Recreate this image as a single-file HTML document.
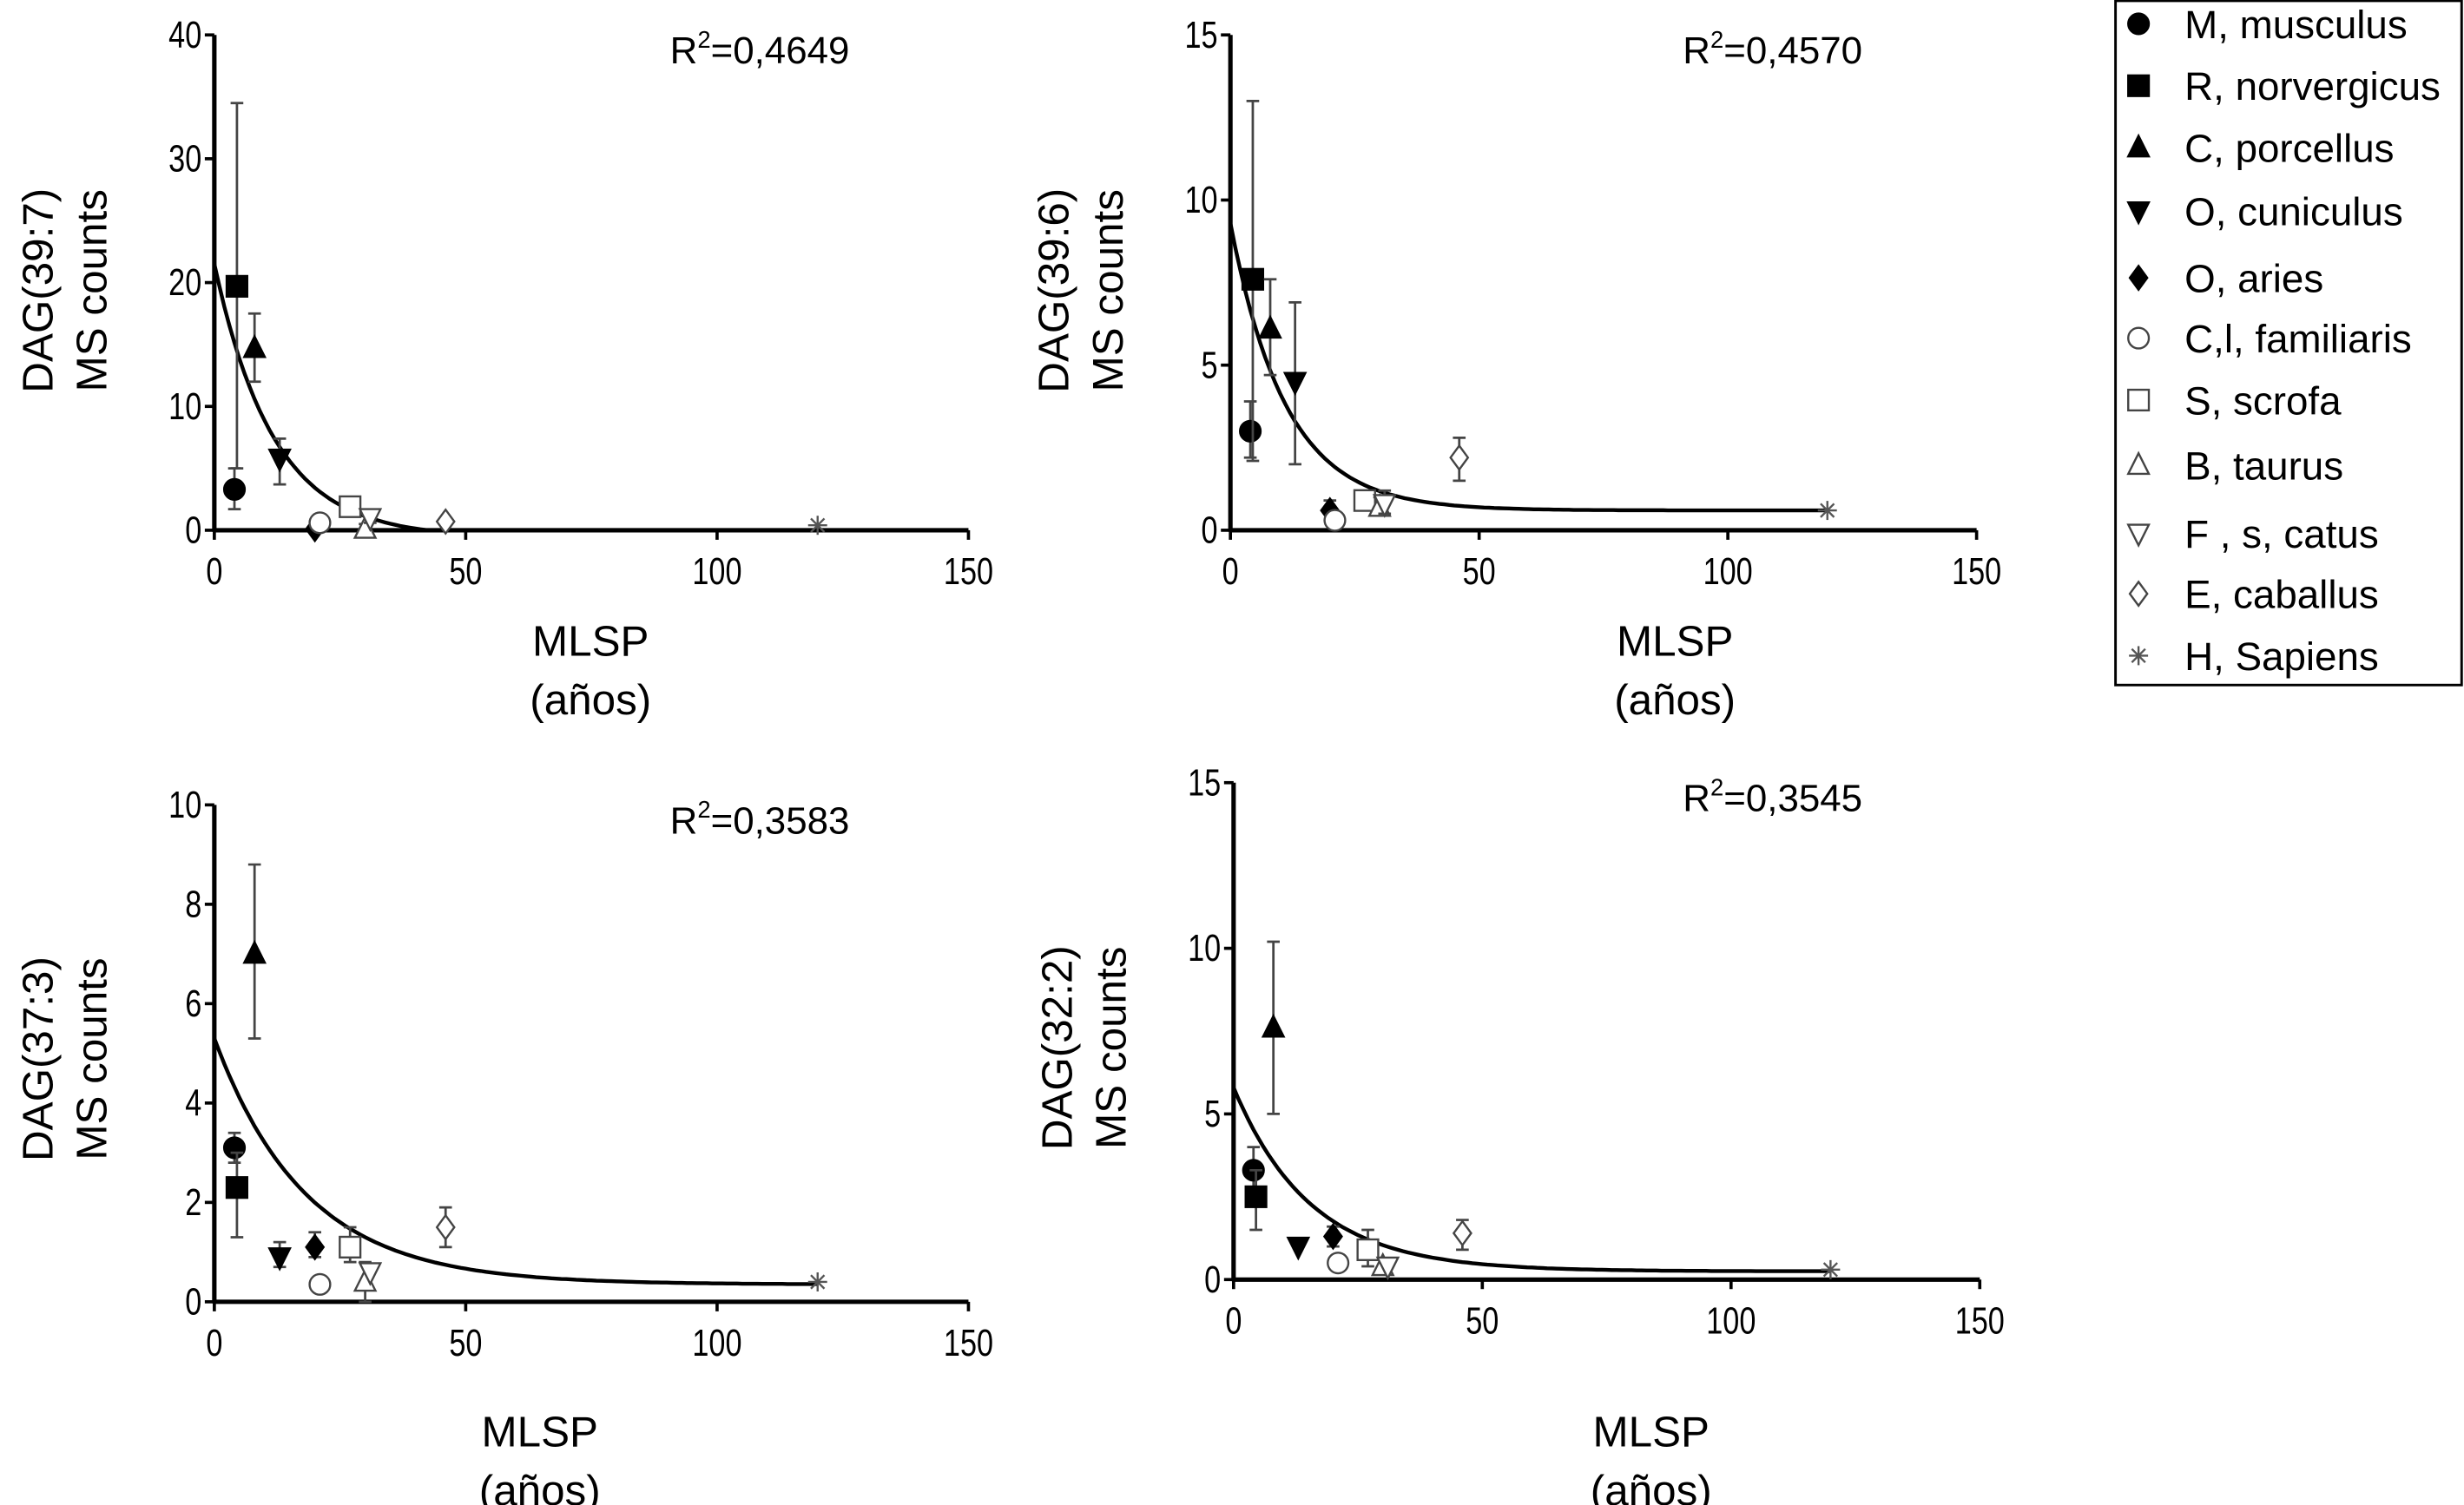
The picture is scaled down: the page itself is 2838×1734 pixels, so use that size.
<!DOCTYPE html>
<html><head><meta charset="utf-8"><style>
html,body{margin:0;padding:0;background:#fff;}
svg{display:block;}
text{font-family:"Liberation Sans",sans-serif;fill:#000;}
.tick{font-family:"Liberation Sans",sans-serif;font-size:24px;}
</style></head><body>
<svg id="chart" width="2838" height="1734" viewBox="0 0 1552 948" preserveAspectRatio="none" xmlns="http://www.w3.org/2000/svg"></svg>
<script>
const species = ["M, musculus","R, norvergicus","C, porcellus","O, cuniculus","O, aries","C,l, familiaris","S, scrofa","B, taurus","F , s, catus","E, caballus","H, Sapiens"];
const markers = ["circle","square","triangle","tridown","diamond","ocircle","osquare","otriangle","otridown","odiamond","star"];
const mlsp = [4,4.5,8,13,20,21,27,30,31,46,120];
const xTicks = [0,50,100,150];
// panel 1 DAG(39:7)
const p1Vals = [3.3,19.7,14.7,5.8,0.1,0.6,1.9,0.1,1.0,0.7,0.4];
const p1Lo = [1.7,5,12,3.7,0.1,0.6,1.9,0,0.6,0.7,0.4];
const p1Hi = [5,34.5,17.5,7.4,0.1,0.6,1.9,0.5,1.5,0.7,0.4];
const p1Fit = [21.5,-0.6,0.085];
const p1Ticks = [0,10,20,30,40];
// panel 2 DAG(39:6)
const p2Vals = [3.0,7.6,6.1,4.5,0.6,0.3,0.9,0.7,0.8,2.2,0.6];
const p2Lo = [2.2,2.1,4.7,2.0,0.3,0.3,0.9,0.5,0.5,1.5,0.6];
const p2Hi = [3.9,13,7.6,6.9,0.9,0.3,1.1,1.0,1.2,2.8,0.6];
const p2Fit = [9.3,0.6,0.09];
const p2Ticks = [0,5,10,15];
// panel 3 DAG(37:3)
const p3Vals = [3.1,2.3,7.0,0.9,1.1,0.35,1.1,0.4,0.6,1.5,0.4];
const p3Lo = [2.8,1.3,5.3,0.7,0.9,0.35,0.8,0,0.6,1.1,0.4];
const p3Hi = [3.4,3.0,8.8,1.2,1.4,0.35,1.5,0.8,0.6,1.9,0.4];
const p3Fit = [5.3,0.35,0.055];
const p3Ticks = [0,2,4,6,8,10];
// panel 4 DAG(32:2)
const p4Vals = [3.3,2.5,7.6,1.0,1.3,0.5,0.9,0.4,0.4,1.4,0.3];
const p4Lo = [2.8,1.5,5.0,1.0,1.0,0.5,0.4,0.4,0.4,0.9,0.3];
const p4Hi = [4.0,3.3,10.2,1.0,1.6,0.5,1.5,0.4,0.4,1.8,0.3];
const p4Fit = [5.8,0.25,0.065];
const p4Ticks = [0,5,10,15];

const NS="http://www.w3.org/2000/svg";
const svg=document.getElementById('chart');
function mk(tag,attrs,parent){const e=document.createElementNS(NS,tag);for(const k in attrs)e.setAttribute(k,attrs[k]);(parent||svg).appendChild(e);return e;}

function marker(g,type,x,y){
  const s=6.5;let e;
  const fill=type.startsWith('o')?'#fff':'#000';
  const stroke=type.startsWith('o')?'#444':'#000';
  if(type==='star'){
    e=mk('g',{stroke:'#555','stroke-width':1.3},g);
    for(let a=0;a<4;a++){const an=a*Math.PI/4;mk('line',{x1:x-6*Math.cos(an),y1:y-6*Math.sin(an),x2:x+6*Math.cos(an),y2:y+6*Math.sin(an)},e);}
  } else if(type==='circle'||type==='ocircle'){
    e=mk('circle',{cx:x,cy:y,r:s,fill,stroke,'stroke-width':1.3},g);
  } else if(type==='square'||type==='osquare'){
    e=mk('rect',{x:x-s,y:y-s,width:2*s,height:2*s,fill,stroke,'stroke-width':1.3},g);
  } else if(type==='triangle'||type==='otriangle'){
    e=mk('polygon',{points:`${x},${y-s-1} ${x+s},${y+s-1} ${x-s},${y+s-1}`,fill,stroke,'stroke-width':1.3},g);
  } else if(type==='tridown'||type==='otridown'){
    e=mk('polygon',{points:`${x},${y+s+1} ${x+s},${y-s+1} ${x-s},${y-s+1}`,fill,stroke,'stroke-width':1.3},g);
  } else {
    e=mk('polygon',{points:`${x},${y-s-1} ${x+s-1},${y} ${x},${y+s+1} ${x-s+1},${y}`,fill,stroke,'stroke-width':1.3},g);
  }
  return e;
}

function panel(cfg){
  const g=mk('g',{});
  
  
  const ymax=cfg.ticks[cfg.ticks.length-1];
  const X=v=>cfg.x0+(v/150)*(cfg.x1-cfg.x0);
  const Y=v=>cfg.y0-(v/ymax)*(cfg.y0-cfg.y1);
  const ax=mk('line',{x1:X(0),y1:cfg.y0,x2:X(150),y2:cfg.y0,stroke:'#000','stroke-width':2.8},g);
  
  
  const ay=mk('line',{x1:X(0),y1:cfg.y0+1,x2:X(0),y2:Y(ymax),stroke:'#000','stroke-width':2.8},g);
  
  
  xTicks.forEach(t=>{
    mk('line',{x1:X(t),y1:cfg.y0,x2:X(t),y2:cfg.y0+6,stroke:'#000','stroke-width':2},g);
    const tx=mk('text',{transform:`translate(${X(t)},${cfg.y0+34}) scale(0.78,1)`,'text-anchor':'middle',class:'tick'},g);
    tx.textContent=t;
    
    
  });
  cfg.ticks.forEach(t=>{
    mk('line',{x1:X(0)-6,y1:Y(t),x2:X(0),y2:Y(t),stroke:'#000','stroke-width':2},g);
    const tx=mk('text',{transform:`translate(${X(0)-8},${Y(t)+8}) scale(0.78,1)`,'text-anchor':'end',class:'tick'},g);
    tx.textContent=t;
    
    
  });
  let d='';
  for(let v=0;v<=120;v+=1){
    let yv=Math.max(0,cfg.fit[1]+(cfg.fit[0]-cfg.fit[1])*Math.exp(-cfg.fit[2]*v));
    d+=(v===0?'M':'L')+X(v).toFixed(1)+','+Y(yv).toFixed(1);
  }
  const c=mk('path',{d,fill:'none',stroke:'#000','stroke-width':2.4},g);
  
  
  cfg.vals.forEach((v,i)=>{
    const x=X(mlsp[i]);
    if(cfg.hi[i]-cfg.lo[i]>0.15){
      const eb=mk('path',{d:`M${x},${Y(cfg.lo[i])}L${x},${Y(cfg.hi[i])}M${x-4},${Y(cfg.lo[i])}L${x+4},${Y(cfg.lo[i])}M${x-4},${Y(cfg.hi[i])}L${x+4},${Y(cfg.hi[i])}`,stroke:'#444','stroke-width':1.5,fill:'none'},g);
      
      
    }
    const m=marker(g,markers[i],x,Y(v));
    
    
  });
  const r=mk('text',{x:cfg.rx,y:cfg.y1+18,'font-size':24},g);
  r.innerHTML='R<tspan dy="-10" font-size="15">2</tspan><tspan dy="10">='+cfg.r2+'</tspan>';
  
  
  const yt=mk('text',{transform:`translate(${cfg.x0-102},${cfg.ymid}) rotate(-90)`,'text-anchor':'middle','font-size':27},g);
  yt.innerHTML=`<tspan x="0" y="0">${cfg.ylab}</tspan><tspan x="0" y="34">MS counts</tspan>`;
  
  
  const xt=mk('text',{'text-anchor':'middle','font-size':27},g);
  xt.innerHTML=`<tspan x="${cfg.xlx}" y="${cfg.xly}">MLSP</tspan><tspan x="${cfg.xlx}" y="${cfg.xly+37}">(años)</tspan>`;
  
  
}

panel({name:'panel-dag-39-7',x0:135,x1:610,y0:334,y1:22,ticks:p1Ticks,vals:p1Vals,lo:p1Lo,hi:p1Hi,fit:p1Fit,r2:'0,4649',rx:422,ylab:'DAG(39:7)',ymid:183,xlx:372,xly:413});
panel({name:'panel-dag-39-6',x0:775,x1:1245,y0:334,y1:22,ticks:p2Ticks,vals:p2Vals,lo:p2Lo,hi:p2Hi,fit:p2Fit,r2:'0,4570',rx:1060,ylab:'DAG(39:6)',ymid:183,xlx:1055,xly:413});
panel({name:'panel-dag-37-3',x0:135,x1:610,y0:820,y1:507,ticks:p3Ticks,vals:p3Vals,lo:p3Lo,hi:p3Hi,fit:p3Fit,r2:'0,3583',rx:422,ylab:'DAG(37:3)',ymid:667,xlx:340,xly:911});
panel({name:'panel-dag-32-2',x0:777,x1:1247,y0:806,y1:493,ticks:p4Ticks,vals:p4Vals,lo:p4Lo,hi:p4Hi,fit:p4Fit,r2:'0,3545',rx:1060,ylab:'DAG(32:2)',ymid:660,xlx:1040,xly:911});

const lg=mk('g',{});


mk('rect',{x:1332.5,y:0.5,width:218,height:431,fill:'#fff',stroke:'#000','stroke-width':1.6},lg);
const legY=[15,54,93,133,175,213,252,293,336,374,413];
species.forEach((s,i)=>{
  const e=mk('g',{},lg);
  
  
  marker(e,markers[i],1347,legY[i]);
  const t=mk('text',{x:1376,y:legY[i]+9,'font-size':25,textLength:0},e);
  t.removeAttribute('textLength');
  t.textContent=s;
});
</script>
</body></html>
